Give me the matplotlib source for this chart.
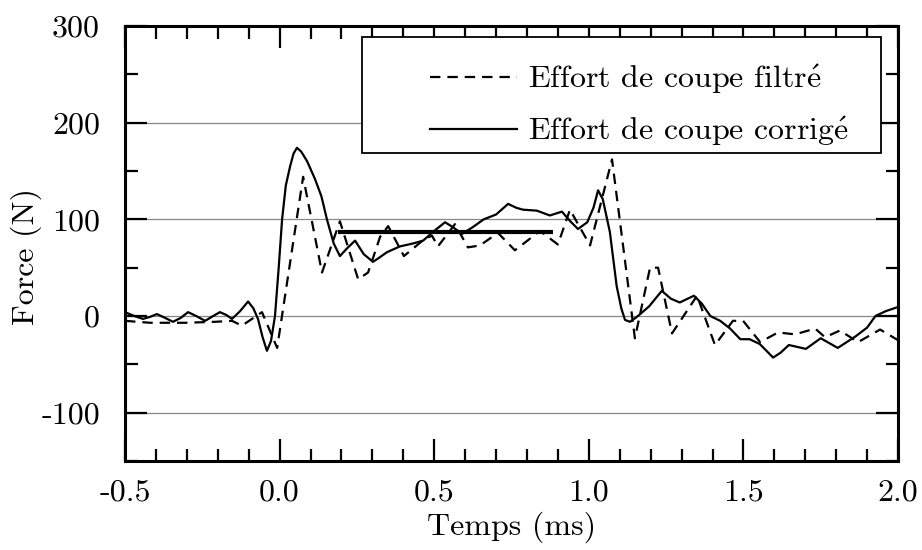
import matplotlib
matplotlib.use("Agg")
from matplotlib import pyplot as plt, ticker
from matplotlib.patches import Rectangle

plt.rcParams['font.family'] = ['cmr10', 'DejaVu Serif']
plt.rcParams['mathtext.fontset'] = 'cm'
plt.rcParams['axes.formatter.use_mathtext'] = True
plt.rcParams['axes.unicode_minus'] = False
plt.rcParams['lines.scale_dashes'] = False

# filtered cutting force (dashed)
t_filtre = [-0.500, -0.419, -0.306, -0.209, -0.154, -0.122, -0.057, -0.008,
            0.076, 0.137, 0.195, 0.254, 0.286, 0.302, 0.325, 0.351, 0.402,
            0.470, 0.493, 0.512, 0.567, 0.609, 0.648, 0.706, 0.761, 0.842,
            0.900, 0.939, 1.004, 1.075, 1.149, 1.198, 1.224, 1.269, 1.350,
            1.408, 1.466, 1.499, 1.554, 1.612, 1.667, 1.732, 1.764, 1.812,
            1.871, 1.942, 2.000]
f_filtre = [-5, -7, -7, -6, -5, -10, 4, -33,
            144, 45, 98, 38, 45, 60, 82, 93, 62,
            80, 83, 72, 95, 71, 73, 86, 68, 88,
            74, 110, 73, 162, -23, 50, 50, -18, 21,
            -30, -5, -5, -27, -17, -19, -13, -22, -15,
            -27, -14, -25]

# corrected cutting force (solid)
t_corr = [-0.500, -0.470, -0.442, -0.420, -0.397, -0.370, -0.345, -0.320,
          -0.296, -0.270, -0.241, -0.215, -0.193, -0.172, -0.154, -0.128,
          -0.102, -0.085, -0.070, -0.055, -0.041, -0.028, -0.015, -0.003,
          0.008, 0.020, 0.034, 0.045, 0.056, 0.070, 0.089, 0.114, 0.135,
          0.153, 0.175, 0.195, 0.218, 0.244, 0.272, 0.302, 0.325, 0.347,
          0.389, 0.431, 0.464, 0.500, 0.535, 0.560, 0.590, 0.625, 0.660,
          0.700, 0.739, 0.765, 0.787, 0.832, 0.874, 0.913, 0.940, 0.965,
          0.995, 1.015, 1.030, 1.045, 1.068, 1.090, 1.105, 1.117, 1.133,
          1.155, 1.195, 1.236, 1.265, 1.294, 1.340, 1.365, 1.393, 1.425,
          1.457, 1.490, 1.520, 1.553, 1.596, 1.620, 1.647, 1.702, 1.750,
          1.805, 1.863, 1.900, 1.927, 1.960, 1.997]
f_corr = [4, 0, -3, -1, 2, -2, -6, -2,
          4, 0, -5, 0, 4, 1, -3, 5,
          15, 8, -3, -22, -36, -26, 0, 50,
          100, 135, 155, 168, 174, 170, 160, 142, 124,
          100, 75, 62, 70, 78, 64, 56, 61, 66,
          72, 75, 78, 88, 97, 92, 85, 92, 100,
          105, 116, 112, 110, 109, 104, 108, 98, 90,
          97, 112, 130, 121, 87, 31, 8, -4, -6,
          -1, 10, 26, 18, 14, 21, 13, 0, -5,
          -13, -24, -24, -29, -43, -38, -30, -34, -23,
          -33, -21, -12, 0, 5, 9]

# mean force over the cut
t_moy = [0.19, 0.885]
f_moy = [87, 87]

xticks = [-0.5, 0.0, 0.5, 1.0, 1.5, 2.0]
xtick_labels = ['-0.5', '0.0', '0.5', '1.0', '1.5', '2.0']
yticks = [-100, 0, 100, 200, 300]
ytick_labels = ['-100', '0', '100', '200', '300']

# cmr10 has no precomposed accented letters, so the accent goes through mathtext
e_aigu = r'$\mathrm{\acute{e}}$'
label_filtre = 'Effort de coupe filtr' + e_aigu
label_corr = 'Effort de coupe corrig' + e_aigu


def main():
    fig = plt.figure(figsize=(9.22, 5.5), dpi=100)
    ax = fig.add_axes([0.1356, 0.1618, 0.8384, 0.7909])

    # grey horizontal lines at the major y ticks
    for y in yticks:
        ax.axhline(y, color='#888888', lw=0.9, zorder=1)

    ax.plot(t_filtre, f_filtre, color='black', lw=1.6, dashes=(7.5, 5),
            label=label_filtre, zorder=3)
    ax.plot(t_corr, f_corr, color='black', lw=1.6,
            label=label_corr, zorder=3)
    ax.plot(t_moy, f_moy, color='black', lw=3.0, solid_capstyle='butt',
            zorder=4)

    ax.set_xlim(-0.5, 2.0)
    ax.set_ylim(-150, 300)

    ax.set_xticks(xticks, labels=xtick_labels)
    ax.set_yticks(yticks, labels=ytick_labels)
    ax.xaxis.set_minor_locator(ticker.MultipleLocator(0.1))
    ax.yaxis.set_minor_locator(ticker.MultipleLocator(50))
    ax.tick_params(which='both', direction='in', top=True, right=True,
                   width=1.6, labelsize=23)
    ax.tick_params(which='major', length=16, pad=13)
    ax.tick_params(which='minor', length=9)
    ax.tick_params(axis='y', which='major', pad=18)
    for sp in ax.spines.values():
        sp.set_linewidth(2.2)

    ax.set_xlabel('Temps (ms)', fontsize=23)
    ax.set_ylabel('Force (N)', fontsize=23)
    ax.xaxis.set_label_coords(0.5, -0.115)
    ax.yaxis.set_label_coords(-0.107, 0.471)

    # legend box drawn by hand, legend entries placed inside it
    box = Rectangle((0.3066, 0.708), 0.6714, 0.267, transform=ax.transAxes,
                    facecolor='white', edgecolor='black', lw=1.3, zorder=5)
    ax.add_patch(box)
    leg = ax.legend(loc='upper left', bbox_to_anchor=(0.394, 0.916),
                    frameon=False, fontsize=23, handlelength=2.75,
                    handletextpad=0.32, borderpad=0, borderaxespad=0,
                    labelspacing=0.55)
    leg.set_zorder(6)

    fig.savefig('out.png', dpi=100)


if __name__ == "__main__":
    main()
